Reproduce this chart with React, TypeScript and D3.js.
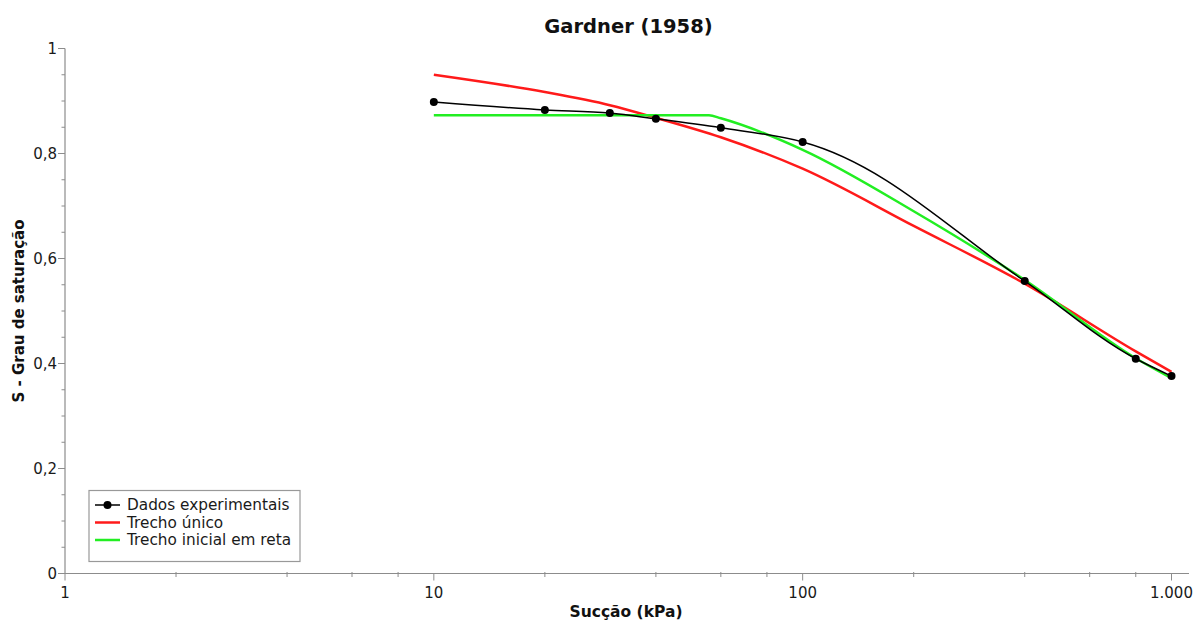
import React from "react";
import * as d3 from "d3";

// Measured soil-water retention data (suction in kPa, degree of saturation)
const suction = [10, 20, 30, 40, 60, 100, 400, 800, 1000];
const saturation = [0.898, 0.883, 0.877, 0.866, 0.849, 0.822, 0.557, 0.409, 0.376];

// Gardner (1958) fit, single segment
const singleX = [10, 20, 30, 40, 60, 100, 200, 400, 800, 1000];
const singleY = [0.950, 0.917, 0.892, 0.868, 0.831, 0.771, 0.662, 0.552, 0.423, 0.384];

// Gardner (1958) fit with a straight initial segment
const straightX = [10, 55.7, 60, 100, 200, 400, 800, 1000];
const straightY = [0.873, 0.873, 0.867, 0.807, 0.690, 0.559, 0.410, 0.372];

const xMajor = [1, 10, 100, 1000];
const xMajorLabels = ["1", "10", "100", "1.000"];
const xMinor = [2, 4, 6, 8, 20, 40, 60, 80, 200, 400, 600, 800];
const yMajor = [0, 0.2, 0.4, 0.6, 0.8, 1];
const yMajorLabels = ["0", "0,2", "0,4", "0,6", "0,8", "1"];
const yMinor = [0.05, 0.1, 0.15, 0.25, 0.3, 0.35, 0.45, 0.5, 0.55, 0.65, 0.7, 0.75, 0.85, 0.9, 0.95];

const legendItems = [
  { label: "Dados experimentais", color: "#000000", marker: true },
  { label: "Trecho único", color: "#ff1a1a", marker: false },
  { label: "Trecho inicial em reta", color: "#22ee22", marker: false },
];

const FONT = "'DejaVu Sans', Verdana, sans-serif";

export default function App() {
  const W = 1194;
  const H = 620;
  const left = 65;
  const right = 1171.5;
  const top = 48.5;
  const bottom = 573.5;

  const x = d3.scaleLog().domain([1, 1000]).range([left, right]);
  const y = d3.scaleLinear().domain([0, 1]).range([bottom, top]);

  const pts = (xs: number[], ys: number[]) => xs.map((v, i) => [x(v), y(ys[i])] as [number, number]);

  const blackLine = d3.line().curve(d3.curveCatmullRom.alpha(1))(pts(suction, saturation)) || "";
  const redLine = d3.line().curve(d3.curveMonotoneX)(pts(singleX, singleY)) || "";
  const greenLine = d3.line().curve(d3.curveMonotoneX)(pts(straightX, straightY)) || "";

  const axisColor = "#8c8c8c";
  const textColor = "#1a1a1a";

  return (
    <svg width={W} height={H} style={{ position: "absolute", left: 0, top: 0, background: "#fff" }} fontFamily={FONT}>
      <text x={628.5} y={33} textAnchor="middle" fontSize={19.5} fontWeight="bold" fill="#111">
        Gardner (1958)
      </text>

      {/* axes */}
      <line x1={left} x2={left} y1={top} y2={bottom} stroke={axisColor} strokeWidth={1.2} />
      <line x1={left} x2={1189} y1={bottom} y2={bottom} stroke={axisColor} strokeWidth={1.2} />

      {yMajor.map((v, i) => (
        <g key={"ym" + i}>
          <line x1={left - 7} x2={left} y1={y(v)} y2={y(v)} stroke={axisColor} />
          <text x={57} y={y(v) + 5} textAnchor="end" fontSize={15} fill={textColor}>
            {yMajorLabels[i]}
          </text>
        </g>
      ))}
      {yMinor.map((v, i) => (
        <line key={"yn" + i} x1={left - 3.5} x2={left} y1={y(v)} y2={y(v)} stroke={axisColor} />
      ))}

      {xMajor.map((v, i) => (
        <g key={"xm" + i}>
          <line x1={x(v)} x2={x(v)} y1={bottom} y2={bottom + 7} stroke={axisColor} />
          <text x={x(v)} y={598} textAnchor="middle" fontSize={15} fill={textColor}>
            {xMajorLabels[i]}
          </text>
        </g>
      ))}
      {xMinor.map((v, i) => (
        <line key={"xn" + i} x1={x(v)} x2={x(v)} y1={bottom - 1.5} y2={bottom + 3.5} stroke={axisColor} />
      ))}

      <text x={626} y={617} textAnchor="middle" fontSize={15.5} fontWeight="bold" fill="#111">
        Sucção (kPa)
      </text>
      <text
        transform={`translate(24, 311) rotate(-90)`}
        textAnchor="middle"
        fontSize={15}
        fontWeight="bold"
        fill="#111"
      >
        S - Grau de saturação
      </text>

      {/* series */}
      <path d={redLine} fill="none" stroke="#ff1a1a" strokeWidth={2.5} />
      <path d={greenLine} fill="none" stroke="#22ee22" strokeWidth={2.5} />
      <path d={blackLine} fill="none" stroke="#000" strokeWidth={1.5} />
      {suction.map((v, i) => (
        <circle key={"p" + i} cx={x(v)} cy={y(saturation[i])} r={4} fill="#000" />
      ))}

      {/* legend */}
      <rect x={89} y={490.5} width={211} height={71} fill="#fff" stroke="#999" strokeWidth={1.2} />
      {legendItems.map((d, i) => {
        const cy = 505 + i * 17.5;
        return (
          <g key={"lg" + i}>
            <line x1={95} x2={120} y1={cy} y2={cy} stroke={d.color} strokeWidth={d.marker ? 1.5 : 2.5} />
            {d.marker && <circle cx={107.5} cy={cy} r={4} fill="#000" />}
            <text x={127} y={cy + 5} fontSize={15.3} fill={textColor}>
              {d.label}
            </text>
          </g>
        );
      })}
    </svg>
  );
}
